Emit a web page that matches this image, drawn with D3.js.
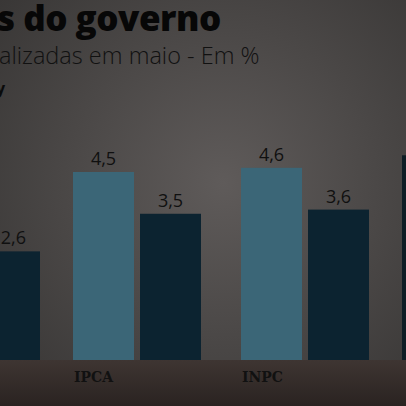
<!DOCTYPE html>
<html><head><meta charset="utf-8">
<script src="https://cdn.jsdelivr.net/npm/d3@7"></script>
<style>body{margin:0;background:#333}</style>
</head><body><svg id="c"></svg>
<script>
var groups = ["", "IPCA", "INPC", ""];
var light = [null, 4.5, 4.6, 4.9];
var dark = [2.6, 3.5, 3.6, null];
var labels = [null, "4,5", "4,6", null];
var darkLabels = ["2,6", "3,5", "3,6", null];

var W = 406, H = 406, base = 360;
var svg = d3.select("#c").attr("width", W).attr("height", H);
var defs = svg.append("defs");
var g1 = defs.append("radialGradient").attr("id", "bg").attr("cx", "55%").attr("cy", "45%").attr("r", "75%");
g1.append("stop").attr("offset", "0%").attr("stop-color", "#5f5b5a");
g1.append("stop").attr("offset", "100%").attr("stop-color", "#373534");
var g2 = defs.append("linearGradient").attr("id", "fl").attr("x1", 0).attr("y1", 0).attr("x2", 0).attr("y2", 1);
g2.append("stop").attr("offset", "0%").attr("stop-color", "#3e3532");
g2.append("stop").attr("offset", "100%").attr("stop-color", "#2a2321");

svg.append("rect").attr("width", W).attr("height", H).attr("fill", "url(#bg)");
svg.append("rect").attr("y", base).attr("width", W).attr("height", H - base).attr("fill", "url(#fl)");

// group index -> x of group start
var x = d3.scaleLinear().domain([0, 1, 2]).range([-88, 73, 241]);
var y = d3.scaleLinear().domain([0, 4.5]).range([base, 172]);
var bw = 61;

groups.forEach(function(c, i) {
    var x0 = x(i);
    // the last group only shows a dark sliver at the right edge
    if (light[i] != null) {
        var lx = i == 3 ? 402 : x0;
        svg.append("rect").attr("x", lx).attr("y", y(light[i])).attr("width", bw)
            .attr("height", base - y(light[i])).attr("fill", i == 3 ? "#0e1d25" : "#3b6677");
        if (labels[i]) svg.append("text").attr("x", lx + bw / 2).attr("y", y(light[i]) - 7)
            .attr("text-anchor", "middle").style("font", "18px 'Open Sans'")
            .attr("fill", "#101010").text(labels[i]);
    }
    if (dark[i] != null) {
        var dx = x0 + 67;
        svg.append("rect").attr("x", dx).attr("y", y(dark[i])).attr("width", bw)
            .attr("height", base - y(dark[i])).attr("fill", "#0c2330");
        svg.append("text").attr("x", i == 0 ? -4 : dx + bw / 2).attr("y", y(dark[i]) - 7)
            .attr("text-anchor", i == 0 ? "start" : "middle").style("font", "18px 'Open Sans'")
            .attr("fill", "#101010").text(i == 0 ? ".2,6" : darkLabels[i]);
    }
    if (c) svg.append("text").attr("x", x0 + 1).attr("y", 382)
        .style("font", "bold 14px 'DejaVu Serif'").attr("fill", "#111").text(c);
});

svg.append("text").attr("x", -3).attr("y", 31).style("font", "800 35px 'Open Sans'")
    .attr("fill", "#070707").attr("letter-spacing", "-0.5").text("s do governo");
svg.append("text").attr("x", -1).attr("y", 64).style("font", "300 23.5px 'Open Sans'")
    .attr("fill", "#111").text("alizadas em maio - Em %");
svg.append("text").attr("x", -4).attr("y", 94).style("font", "bold 16px 'Open Sans'")
    .attr("fill", "#0a0a0a").text("y");
</script></body></html>
